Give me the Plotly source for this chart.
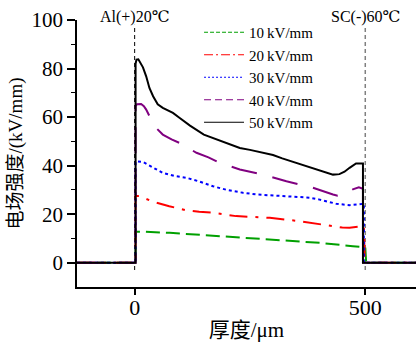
import plotly.graph_objects as go

# Electric-field distribution across a 500 µm sample for five applied fields
labels = ["10\u2009kV/mm", "20\u2009kV/mm", "30\u2009kV/mm", "40\u2009kV/mm", "50\u2009kV/mm"]

x_10 = [-125, 2, 2, 14, 76, 184, 293, 401, 473, 500, 502, 610]
e_10 = [0, 0, 12.8, 12.8, 12.3, 11.0, 9.6, 8.2, 6.8, 6.3, 0, 0]

x_20 = [-125, 2, 2, 11, 25, 40, 75, 112, 140, 170, 220, 293, 358, 400, 430, 450, 466, 480, 497, 499, 610]
e_20 = [0, 0, 27.6, 27.4, 26.3, 25.1, 23.3, 21.6, 21.0, 20.6, 19.2, 18.5, 17.1, 16.0, 15.1, 14.5, 14.4, 14.6, 15.1, 0, 0]

x_30 = [-125, 2, 2, 4, 18, 28, 40, 61, 85, 112, 140, 170, 200, 235, 265, 293, 350, 380, 401, 420, 437, 466, 485, 497, 497, 610]
e_30 = [0, 0, 41.5, 41.8, 41.5, 40.5, 39.1, 37.0, 35.8, 35.0, 33.5, 31.5, 30.0, 28.8, 28.1, 27.8, 27.4, 26.8, 26.0, 25.0, 24.3, 23.7, 23.9, 24.3, 0, 0]

x_40 = [-125, 2, 2, 5, 14, 20, 25, 35, 43, 61, 80, 97, 134, 160, 184, 228, 278, 329, 386, 430, 440, 448, 460, 473, 486, 495, 495, 610]
e_40 = [0, 0, 64.5, 65.3, 65.4, 64.5, 63.1, 59.0, 56.2, 52.8, 50.8, 49.4, 45.3, 43.4, 41.2, 38.4, 36.3, 33.6, 30.9, 28.1, 27.6, 27.7, 28.6, 30.2, 31.1, 30.5, 0, 0]

x_50 = [-125, 2, 2, 4, 8, 12, 18, 25, 32, 40, 50, 61, 83, 97, 120, 150, 175, 200, 228, 250, 270, 285, 300, 320, 350, 372, 400, 430, 444, 455, 466, 480, 495, 495, 610]
e_50 = [0, 0, 82, 83.7, 83.8, 82.5, 80.5, 76.8, 72.0, 68.6, 65.3, 63.8, 61.7, 59.7, 56.5, 52.8, 51.0, 49.1, 47.3, 46.5, 45.6, 45.2, 44.4, 43.0, 41.1, 39.8, 38.1, 36.3, 36.5, 37.5, 39.1, 40.9, 40.9, 0, 0]

xs = [x_10, x_20, x_30, x_40, x_50]
es = [e_10, e_20, e_30, e_40, e_50]
colors = ["#00a000", "#ff0000", "#0000ff", "#800080", "#000000"]
dashes = ["14px,6px", "18px,8px,3px,8px", "3px,3px", "26px,16px", "solid"]
# finer dash patterns for the thin legend keys
key_dashes = ["4px,2px", "9px,3px,2px,3px", "2px,2px", "7px,4px", "solid"]

serif = "Liberation Serif, DejaVu Serif, Noto Sans CJK SC"

fig = go.Figure()
for name, x, e, c, d in zip(labels, xs, es, colors, dashes):
    fig.add_trace(go.Scatter(x=x, y=e, mode="lines", name=name, showlegend=False,
                             line=dict(color=c, width=2, dash=d)))
# legend keys drawn with thin lines
for name, c, d in zip(labels, colors, key_dashes):
    fig.add_trace(go.Scatter(x=[None], y=[None], mode="lines", name=name,
                             line=dict(color=c, width=1.2, dash=d)))

# electrode boundaries
fig.add_shape(type="line", x0=0, x1=0, y0=-3, y1=98, xref="x", yref="y",
              line=dict(color="black", width=1, dash="4px,3px"), layer="below")
fig.add_shape(type="line", x0=500, x1=500, y0=-3, y1=97, xref="x", yref="y",
              line=dict(color="#808080", width=1.5, dash="4px,3px"), layer="below")

fig.add_annotation(x=0, y=1, xref="x", yref="paper", text="Al(+)20\u2103",
                   showarrow=False, yanchor="middle", yshift=3,
                   font=dict(family=serif, size=16, color="black"))
fig.add_annotation(x=500, y=1, xref="x", yref="paper", text="SC(-)60\u2103",
                   showarrow=False, yanchor="middle", yshift=3,
                   font=dict(family=serif, size=16, color="black"))

fig.update_layout(
    width=416, height=342,
    margin=dict(l=77, r=0, t=20, b=55),
    plot_bgcolor="white", paper_bgcolor="white",
    font=dict(family=serif, color="black"),
    showlegend=True,
    legend=dict(x=0.36, y=1.015, xanchor="left", yanchor="top", itemwidth=40,
                bgcolor="rgba(0,0,0,0)", font=dict(family=serif, size=15),
                tracegroupgap=0),
    xaxis=dict(range=[-125, 610], tickvals=[0, 500], showline=True, linecolor="black",
               linewidth=1.5, ticks="outside", ticklen=6, tickwidth=1.5, tickcolor="black",
               ticklabelstandoff=-6,
               showgrid=False, zeroline=False, tickfont=dict(size=22, family=serif),
               title=dict(text="厚度/μm", font=dict(size=21, family=serif), standoff=8)),
    yaxis=dict(range=[-10, 100], tickvals=[0, 20, 40, 60, 80, 100], showline=True,
               linecolor="black", linewidth=1.5, ticks="outside", ticklen=8, tickwidth=1.5,
               tickcolor="black", showgrid=False, zeroline=False,
               minor=dict(tickvals=[10, 30, 50, 70, 90], ticks="outside", ticklen=4,
                          tickwidth=1.2, tickcolor="black"),
               tickfont=dict(size=21, family=serif),
               title=dict(text="电场强度/(kV/mm)", font=dict(size=19, family=serif), standoff=4)),
)

fig.write_html("out.html")
